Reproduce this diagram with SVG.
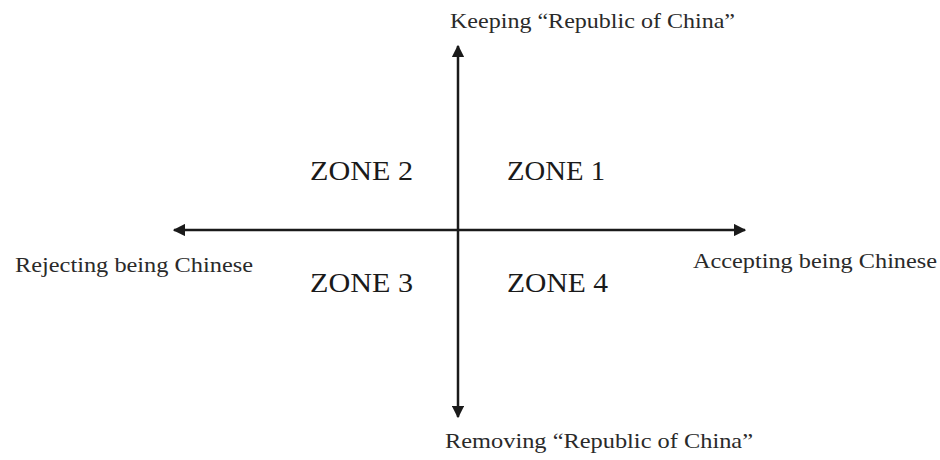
<svg xmlns="http://www.w3.org/2000/svg" width="940" height="460" viewBox="0 0 940 460">
<style>
.lbl{font-family:"Liberation Serif","Times New Roman",serif;font-size:21px;fill:#2a2a2a}
.zone{font-family:"Liberation Serif","Times New Roman",serif;font-size:28px;fill:#1a1a1a}
.axis{stroke:#1a1a1a;stroke-width:2.5;fill:none}
</style>
<defs>
<marker id="ah" viewBox="0 0 10 10" refX="9" refY="5" markerWidth="5" markerHeight="5" orient="auto" markerUnits="strokeWidth">
<path d="M0,0 L10,5 L0,10 z" fill="#1a1a1a"/>
</marker>
</defs>
<rect width="940" height="460" fill="#ffffff"/>
<g id="connectors">
<line class="axis" x1="458" y1="230" x2="458" y2="46" marker-end="url(#ah)"/>
<line class="axis" x1="458" y1="230" x2="458" y2="417" marker-end="url(#ah)"/>
<line class="axis" x1="458" y1="230" x2="174" y2="230" marker-end="url(#ah)"/>
<line class="axis" x1="458" y1="230" x2="745" y2="230" marker-end="url(#ah)"/>
</g>
<g id="top"><text class="lbl" x="450" y="28" textLength="285" lengthAdjust="spacingAndGlyphs">Keeping “Republic of China”</text></g>
<g id="bottom"><text class="lbl" x="445" y="448" textLength="308" lengthAdjust="spacingAndGlyphs">Removing “Republic of China”</text></g>
<g id="left"><text class="lbl" x="15" y="272" textLength="238" lengthAdjust="spacingAndGlyphs">Rejecting being Chinese</text></g>
<g id="right"><text class="lbl" x="693" y="268" textLength="244" lengthAdjust="spacingAndGlyphs">Accepting being Chinese</text></g>
<g id="zone1"><text class="zone" x="507" y="180" textLength="98" lengthAdjust="spacingAndGlyphs">ZONE 1</text></g>
<g id="zone2"><text class="zone" x="310" y="180" textLength="103" lengthAdjust="spacingAndGlyphs">ZONE 2</text></g>
<g id="zone3"><text class="zone" x="310" y="292" textLength="103" lengthAdjust="spacingAndGlyphs">ZONE 3</text></g>
<g id="zone4"><text class="zone" x="507" y="292" textLength="101" lengthAdjust="spacingAndGlyphs">ZONE 4</text></g>
</svg>
